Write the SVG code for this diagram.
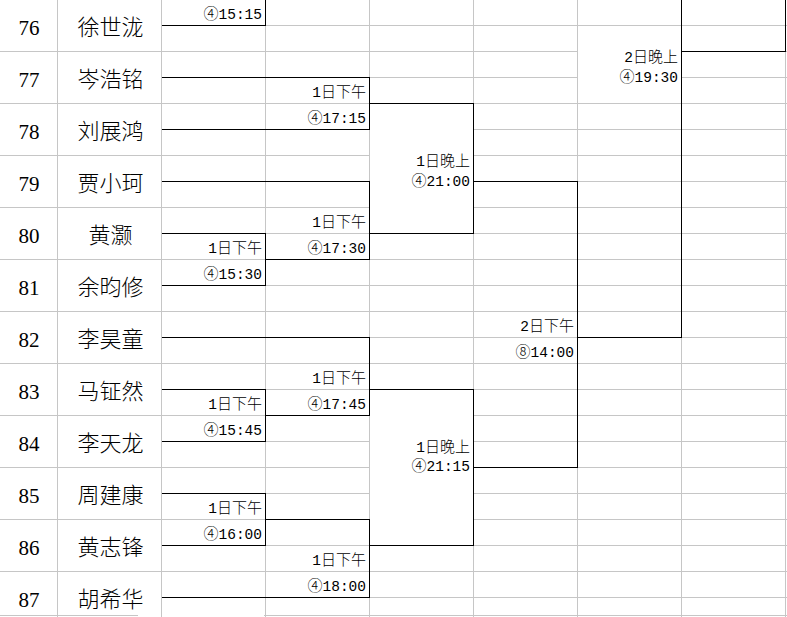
<svg xmlns="http://www.w3.org/2000/svg" width="787" height="617" viewBox="0 0 787 617">
<style>
.grid{stroke:#c6c6c6;stroke-width:1;fill:none;shape-rendering:crispEdges}
.conn{stroke:#000;stroke-width:1;fill:none;shape-rendering:crispEdges}
.num{font-family:"Liberation Serif","Times New Roman",serif;font-size:21px;fill:#000;text-anchor:middle}
.name{font-family:"Noto Sans CJK SC","Noto Sans CJK JP",sans-serif;font-size:22px;font-weight:300;fill:#000;text-anchor:middle}
.lbl{font-family:"Liberation Mono","Noto Sans CJK SC",monospace;font-size:14.5px;fill:#000;text-anchor:end}
.c{font-family:"Noto Sans CJK SC","Noto Sans CJK JP",sans-serif;font-size:15px;font-weight:300}
</style>
<rect x="0" y="0" width="787" height="617" fill="#fff"/>
<g id="grid" class="grid">
<path d="M57.5 0V617M161.5 0V617M265.5 0V617M369.5 0V617M473.5 0V617M577.5 0V617M681.5 0V617M785.5 0V617"/>
<path d="M0 51.5H161.5M0 103.5H161.5M0 155.5H161.5M0 207.5H161.5M0 259.5H161.5M0 311.5H161.5M0 363.5H161.5M0 415.5H161.5M0 467.5H161.5M0 519.5H161.5M0 571.5H161.5"/>
<path d="M161.5 25.5H787
M161.5 51.5H577.5M681.5 51.5H787
M161.5 77.5H577.5M681.5 77.5H787
M161.5 103.5H787
M161.5 129.5H369.5M473.5 129.5H787
M161.5 155.5H369.5M473.5 155.5H787
M161.5 181.5H369.5M473.5 181.5H787
M161.5 207.5H369.5M473.5 207.5H787
M161.5 233.5H787
M161.5 259.5H787
M161.5 285.5H787
M161.5 311.5H787
M161.5 337.5H787
M161.5 363.5H787
M161.5 389.5H787
M161.5 415.5H369.5M473.5 415.5H787
M161.5 441.5H369.5M473.5 441.5H787
M161.5 467.5H369.5M473.5 467.5H787
M161.5 493.5H369.5M473.5 493.5H787
M161.5 519.5H369.5M473.5 519.5H787
M161.5 545.5H787
M161.5 571.5H787
M161.5 597.5H787
M0 615.5H138M264 615.5H787"/>
</g>
<g id="connectors" class="conn">
<path d="M161.5 25.5H265.5V0"/>
<path d="M161.5 77.5H369.5V129.5H161.5"/>
<path d="M369.5 103.5H473.5V233.5H369.5"/>
<path d="M473.5 181.5H577.5V467.5H473.5"/>
<path d="M161.5 181.5H369.5V259.5H265.5"/>
<path d="M161.5 233.5H265.5V285.5H161.5"/>
<path d="M161.5 337.5H369.5V415.5H265.5"/>
<path d="M161.5 389.5H265.5V441.5H161.5"/>
<path d="M369.5 389.5H473.5V545.5H369.5"/>
<path d="M161.5 493.5H265.5V545.5H161.5"/>
<path d="M265.5 519.5H369.5V597.5H161.5"/>
<path d="M577.5 337.5H681.5V0"/>
<path d="M681.5 51.5H785.5V0"/>
</g>
<g id="p76"><text class="num" x="29" y="35.3">76</text><text class="name" x="110.5" y="35.3">徐世泷</text></g>
<g id="p77"><text class="num" x="29" y="87.3">77</text><text class="name" x="110.5" y="87.3">岑浩铭</text></g>
<g id="p78"><text class="num" x="29" y="139.3">78</text><text class="name" x="110.5" y="139.3">刘展鸿</text></g>
<g id="p79"><text class="num" x="29" y="191.3">79</text><text class="name" x="110.5" y="191.3">贾小珂</text></g>
<g id="p80"><text class="num" x="29" y="243.3">80</text><text class="name" x="110.5" y="243.3">黄灏</text></g>
<g id="p81"><text class="num" x="29" y="295.3">81</text><text class="name" x="110.5" y="295.3">余昀修</text></g>
<g id="p82"><text class="num" x="29" y="347.3">82</text><text class="name" x="110.5" y="347.3">李昊童</text></g>
<g id="p83"><text class="num" x="29" y="399.3">83</text><text class="name" x="110.5" y="399.3">马钲然</text></g>
<g id="p84"><text class="num" x="29" y="451.3">84</text><text class="name" x="110.5" y="451.3">李天龙</text></g>
<g id="p85"><text class="num" x="29" y="503.3">85</text><text class="name" x="110.5" y="503.3">周建康</text></g>
<g id="p86"><text class="num" x="29" y="555.3">86</text><text class="name" x="110.5" y="555.3">黄志锋</text></g>
<g id="p87"><text class="num" x="29" y="607.3">87</text><text class="name" x="110.5" y="607.3">胡希华</text></g>
<g id="m1515"><text class="lbl" x="262" y="19"><tspan class="c">④</tspan>15:15</text></g>
<g id="m1715"><text class="lbl" x="366" y="97">1<tspan class="c">日下午</tspan></text><text class="lbl" x="366" y="123"><tspan class="c">④</tspan>17:15</text></g>
<g id="m1530"><text class="lbl" x="262" y="253">1<tspan class="c">日下午</tspan></text><text class="lbl" x="262" y="279"><tspan class="c">④</tspan>15:30</text></g>
<g id="m1730"><text class="lbl" x="366" y="227">1<tspan class="c">日下午</tspan></text><text class="lbl" x="366" y="253"><tspan class="c">④</tspan>17:30</text></g>
<g id="m2100"><text class="lbl" x="470" y="166">1<tspan class="c">日晚上</tspan></text><text class="lbl" x="470" y="185.5"><tspan class="c">④</tspan>21:00</text></g>
<g id="m1745"><text class="lbl" x="366" y="383">1<tspan class="c">日下午</tspan></text><text class="lbl" x="366" y="409"><tspan class="c">④</tspan>17:45</text></g>
<g id="m1545"><text class="lbl" x="262" y="409">1<tspan class="c">日下午</tspan></text><text class="lbl" x="262" y="435"><tspan class="c">④</tspan>15:45</text></g>
<g id="m2115"><text class="lbl" x="470" y="451.5">1<tspan class="c">日晚上</tspan></text><text class="lbl" x="470" y="471"><tspan class="c">④</tspan>21:15</text></g>
<g id="m1600"><text class="lbl" x="262" y="513">1<tspan class="c">日下午</tspan></text><text class="lbl" x="262" y="539"><tspan class="c">④</tspan>16:00</text></g>
<g id="m1800"><text class="lbl" x="366" y="565">1<tspan class="c">日下午</tspan></text><text class="lbl" x="366" y="591"><tspan class="c">④</tspan>18:00</text></g>
<g id="m1400"><text class="lbl" x="574" y="331">2<tspan class="c">日下午</tspan></text><text class="lbl" x="574" y="357"><tspan class="c">⑧</tspan>14:00</text></g>
<g id="m1930"><text class="lbl" x="678" y="62">2<tspan class="c">日晚上</tspan></text><text class="lbl" x="678" y="81.5"><tspan class="c">④</tspan>19:30</text></g>
</svg>
